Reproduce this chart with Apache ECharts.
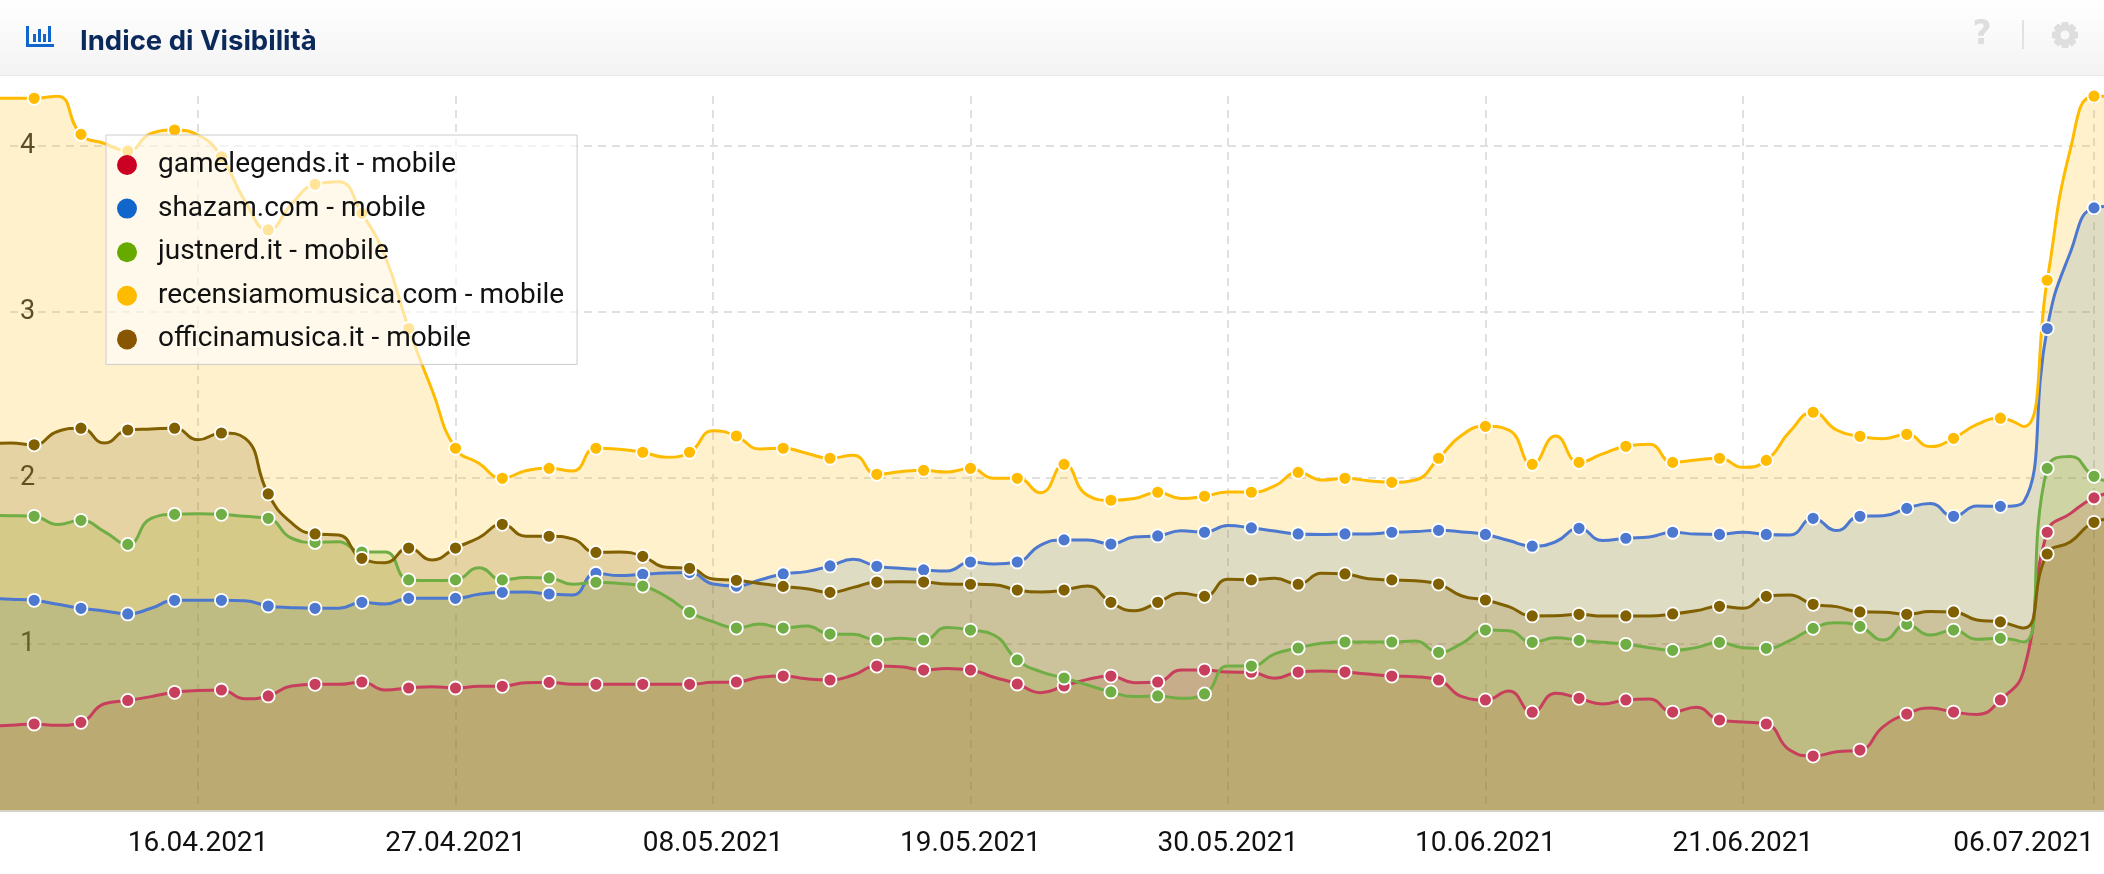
<!DOCTYPE html>
<html>
<head>
<meta charset="utf-8">
<title>Indice di Visibilità</title>
<script src="https://cdn.jsdelivr.net/npm/echarts@6/dist/echarts.min.js"></script>
<style>
  html, body { margin: 0; padding: 0; background: #fff; }
  #chart { width: 2104px; height: 874px; }
</style>
</head>
<body>
<div id="chart"></div>
<script>
// daily values from 07.04.2021 to 08.07.2021, a marker is drawn every second day
const firstDay = Date.UTC(2021, 3, 7);
const tickDays = [
  Date.UTC(2021, 3, 16), Date.UTC(2021, 3, 27), Date.UTC(2021, 4, 8), Date.UTC(2021, 4, 19),
  Date.UTC(2021, 4, 30), Date.UTC(2021, 5, 10), Date.UTC(2021, 5, 21), Date.UTC(2021, 6, 6)
];
const yTicks = [1, 2, 3, 4];

const gamelegends = [
  .506, .51, .518, .51, .528, .64, .66, .683, .709, .72, .723, .67, .687, .747, .757, .757,
  .771, .723, .735, .743, .735, .745, .745, .767, .769, .757, .757, .757, .757, .757, .757,
  .769, .771, .80, .807, .79, .783, .813, .867, .863, .843, .853, .843, .80, .759, .707,
  .747, .787, .807, .767, .771, .843, .843, .831, .83, .793, .831, .837, .831, .819, .807,
  .803, .783, .683, .663, .717, .589, .703, .673, .639, .663, .669, .59, .619, .542, .53,
  .518, .361, .325, .351, .361, .502, .578, .614, .59, .576, .663, .843, 1.673, 1.787, 1.88, 1.92, 1.94
];
const shazam = [
  1.275, 1.27, 1.263, 1.239, 1.215, 1.199, 1.181, 1.215, 1.263, 1.263, 1.263, 1.26, 1.229, 1.219, 1.215, 1.215,
  1.251, 1.241, 1.275, 1.275, 1.275, 1.299, 1.311, 1.313, 1.301, 1.295, 1.426, 1.412, 1.42, 1.428, 1.43,
  1.361, 1.349, 1.386, 1.422, 1.436, 1.47, 1.51, 1.468, 1.456, 1.446, 1.44, 1.494, 1.482, 1.494, 1.596,
  1.627, 1.627, 1.602, 1.645, 1.651, 1.682, 1.673, 1.714, 1.699, 1.681, 1.663, 1.66, 1.663, 1.663, 1.673,
  1.677, 1.685, 1.675, 1.66, 1.623, 1.589, 1.616, 1.697, 1.623, 1.637, 1.645, 1.673, 1.662, 1.66, 1.673,
  1.66, 1.657, 1.757, 1.683, 1.769, 1.772, 1.817, 1.847, 1.769, 1.831, 1.829, 1.857, 2.90, 3.363, 3.627, 3.64, 3.65
];
const justnerd = [
  1.775, 1.773, 1.769, 1.72, 1.745, 1.677, 1.60, 1.757, 1.781, 1.785, 1.781, 1.769, 1.757, 1.637, 1.612, 1.616,
  1.554, 1.554, 1.386, 1.382, 1.386, 1.46, 1.386, 1.40, 1.398, 1.36, 1.372, 1.365, 1.349, 1.285, 1.191,
  1.135, 1.096, 1.12, 1.096, 1.108, 1.06, 1.058, 1.024, 1.034, 1.024, 1.10, 1.084, 1.054, .904, .833,
  .795, .753, .711, .683, .687, .673, .699, .867, .867, .94, .976, 1.004, 1.012, 1.012, 1.012,
  1.018, .95, 1.004, 1.084, 1.08, 1.01, 1.038, 1.022, 1.01, .998, .978, .962, .978, 1.01, .978,
  .974, 1.02, 1.094, 1.128, 1.106, 1.024, 1.118, 1.054, 1.084, 1.028, 1.034, 1.012, 2.058, 2.13, 2.01, 1.97, 1.95
];
const recensiamomusica = [
  4.287, 4.287, 4.287, 4.30, 4.07, 4.015, 3.97, 4.076, 4.096, 4.066, 3.935, 3.67, 3.494, 3.65, 3.769, 3.785,
  3.594, 3.333, 2.90, 2.53, 2.179, 2.089, 1.998, 2.044, 2.058, 2.042, 2.179, 2.173, 2.155, 2.125, 2.155,
  2.285, 2.253, 2.175, 2.179, 2.149, 2.119, 2.137, 2.022, 2.038, 2.046, 2.036, 2.058, 1.998, 1.998, 1.911,
  2.082, 1.895, 1.866, 1.877, 1.914, 1.877, 1.89, 1.916, 1.914, 1.952, 2.034, 1.988, 1.998, 1.984, 1.974,
  1.988, 2.119, 2.259, 2.311, 2.289, 2.082, 2.253, 2.094, 2.145, 2.191, 2.203, 2.094, 2.108, 2.119, 2.064,
  2.106, 2.279, 2.396, 2.289, 2.251, 2.237, 2.263, 2.189, 2.239, 2.323, 2.36, 2.31, 3.191, 3.986, 4.30, 4.30, 4.30
];
const officinamusica = [
  2.205, 2.211, 2.20, 2.28, 2.30, 2.21, 2.289, 2.295, 2.30, 2.23, 2.271, 2.24, 1.904, 1.729, 1.663, 1.657,
  1.516, 1.49, 1.578, 1.506, 1.578, 1.64, 1.721, 1.649, 1.649, 1.633, 1.552, 1.554, 1.528, 1.462, 1.456,
  1.392, 1.384, 1.365, 1.347, 1.333, 1.311, 1.341, 1.373, 1.375, 1.373, 1.361, 1.36, 1.357, 1.325, 1.313,
  1.325, 1.349, 1.251, 1.20, 1.251, 1.305, 1.287, 1.39, 1.386, 1.396, 1.36, 1.426, 1.422, 1.393, 1.386,
  1.381, 1.361, 1.289, 1.265, 1.225, 1.169, 1.17, 1.179, 1.168, 1.169, 1.169, 1.181, 1.20, 1.227, 1.215,
  1.287, 1.295, 1.239, 1.225, 1.193, 1.191, 1.179, 1.195, 1.193, 1.145, 1.133, 1.096, 1.542, 1.616, 1.733, 1.76, 1.78
];

const names = [
  "gamelegends.it - mobile", "shazam.com - mobile", "justnerd.it - mobile",
  "recensiamomusica.com - mobile", "officinamusica.it - mobile"
];
const values = [gamelegends, shazam, justnerd, recensiamomusica, officinamusica];
const legendColors = ["#cc0022", "#1166cc", "#66aa00", "#ffbb00", "#885500"];
const lineColors = ["#c73f5c", "#4d78cf", "#70ae45", "#ffbb00", "#806000"];
const areaColors = ["#cc0022", "#1166cc", "#66aa00", "#ffbb00", "#806000"];
const areaAlpha = [0.16, 0.17, 0.16, 0.2, 0.2];

const DAY = 86400000;
const pad = n => String(n).padStart(2, "0");
const fmtDate = ts => {
  const d = new Date(ts);
  return `${pad(d.getUTCDate())}.${pad(d.getUTCMonth() + 1)}.${d.getUTCFullYear()}`;
};

const chart = echarts.init(document.getElementById("chart"));

const series = names.map((name, i) => ({
  name,
  type: "line",
  data: values[i].map((v, k) => [firstDay + k * DAY, v]),
  smooth: 0.5,
  showAllSymbol: true,
  symbol: (v, p) => (p.dataIndex % 2 ? "none" : "circle"),
  symbolSize: 13,
  color: lineColors[i],
  lineStyle: { width: 3, color: lineColors[i] },
  itemStyle: { color: lineColors[i], borderColor: "#fff", borderWidth: 1.8 },
  areaStyle: { color: areaColors[i], opacity: areaAlpha[i] },
  silent: true
}));

const gearTeeth = [0, 45, 90, 135].map(a => ({
  type: "rect",
  rotation: a * Math.PI / 180,
  shape: { x: -3.5, y: -13, width: 7, height: 26, r: 1 },
  style: { fill: "#dedede" }
}));

const gridLine = { show: true, lineStyle: { type: [8, 6], width: 2, color: "#e0e0e0" } };

chart.setOption({
  animation: false,
  backgroundColor: "#fff",
  title: {
    text: "Indice di Visibilità", left: 75, top: 23,
    textStyle: { fontFamily: "Inter", fontWeight: 700, fontSize: 27.5, color: "#0b2a5b" }
  },
  // first grid holds the series edge to edge, second one the ticks and dashed lines
  grid: [
    { left: 0, right: 0, top: 96, bottom: 64 },
    { left: 10, right: 10, top: 96, bottom: 64 }
  ],
  xAxis: [
    { type: "value", gridIndex: 0, show: false, min: tickDays[0] - 8.459 * DAY, max: tickDays[7] + 0.427 * DAY },
    {
      type: "value",
      gridIndex: 1,
      min: tickDays[0] - 8.032 * DAY,
      max: tickDays[7],
      axisLine: { show: false },
      axisTick: { show: false, customValues: tickDays },
      axisLabel: {
        customValues: tickDays, formatter: v => fmtDate(v),
        fontFamily: "Roboto", fontSize: 28, color: "#111", margin: 20,
        alignMaxLabel: "right", hideOverlap: false
      },
      splitLine: gridLine
    }
  ],
  yAxis: [
    { type: "value", gridIndex: 0, show: false, min: 0, max: 4.301 },
    {
      type: "value",
      gridIndex: 1,
      min: 0,
      max: 4.301,
      axisLine: { show: false },
      axisTick: { show: false, customValues: yTicks },
      axisLabel: {
        inside: true, margin: 10, customValues: yTicks,
        fontFamily: "Roboto", fontSize: 27, color: "#333"
      },
      splitLine: gridLine
    }
  ],
  legend: {
    orient: "vertical", left: 106, top: 135,
    padding: [16, 13, 11, 11],
    backgroundColor: "rgba(255,255,255,0.6)", borderColor: "#ccc", borderWidth: 1,
    icon: "circle", itemWidth: 20, itemHeight: 20, itemGap: 15.6,
    selectedMode: false,
    itemStyle: { borderWidth: 0 },
    textStyle: { fontFamily: "Roboto", fontSize: 28, color: "#111", padding: [0, 0, 0, 16] },
    data: names.map((name, i) => ({ name, itemStyle: { color: legendColors[i] } }))
  },
  graphic: [
    {
      type: "rect", z: -1, shape: { x: 0, y: 0, width: 2104, height: 76 },
      style: {
        fill: new echarts.graphic.LinearGradient(0, 0, 0, 1, [
          { offset: 0, color: "#ffffff" }, { offset: 1, color: "#f3f3f3" }
        ])
      }
    },
    { type: "rect", z: -1, shape: { x: 0, y: 75, width: 2104, height: 1 }, style: { fill: "#e8e8e8" } },
    { type: "rect", z: 1, shape: { x: 0, y: 810, width: 2104, height: 2 }, style: { fill: "#d6d3c6" } },
    // icon of the panel head
    {
      type: "group", x: 26, y: 26,
      children: [
        { type: "rect", shape: { x: 0, y: 0, width: 3, height: 21 }, style: { fill: "#1166cc" } },
        { type: "rect", shape: { x: 0, y: 18, width: 28, height: 3 }, style: { fill: "#1166cc" } },
        { type: "rect", shape: { x: 7, y: 8, width: 3, height: 8 }, style: { fill: "#1166cc" } },
        { type: "rect", shape: { x: 12, y: 3, width: 3, height: 13 }, style: { fill: "#1166cc" } },
        { type: "rect", shape: { x: 17, y: 8, width: 3, height: 8 }, style: { fill: "#1166cc" } },
        { type: "rect", shape: { x: 22, y: 0, width: 3, height: 16 }, style: { fill: "#1166cc" } }
      ]
    },
    {
      type: "text", x: 1982, y: 35,
      style: { text: "?", font: "bold 33px 'DejaVu Sans'", fill: "#dedede", align: "center", verticalAlign: "middle" }
    },
    { type: "rect", shape: { x: 2022, y: 20, width: 2, height: 29 }, style: { fill: "#e2e2e2" } },
    {
      type: "group", x: 2065, y: 35,
      children: gearTeeth.concat([
        { type: "ring", shape: { cx: 0, cy: 0, r: 10.5, r0: 0 }, style: { fill: "#dedede" } },
        { type: "circle", shape: { cx: 0, cy: 0, r: 4.5 }, style: { fill: "#f8f8f8" } }
      ])
    }
  ],
  series
});
</script>
</body>
</html>
